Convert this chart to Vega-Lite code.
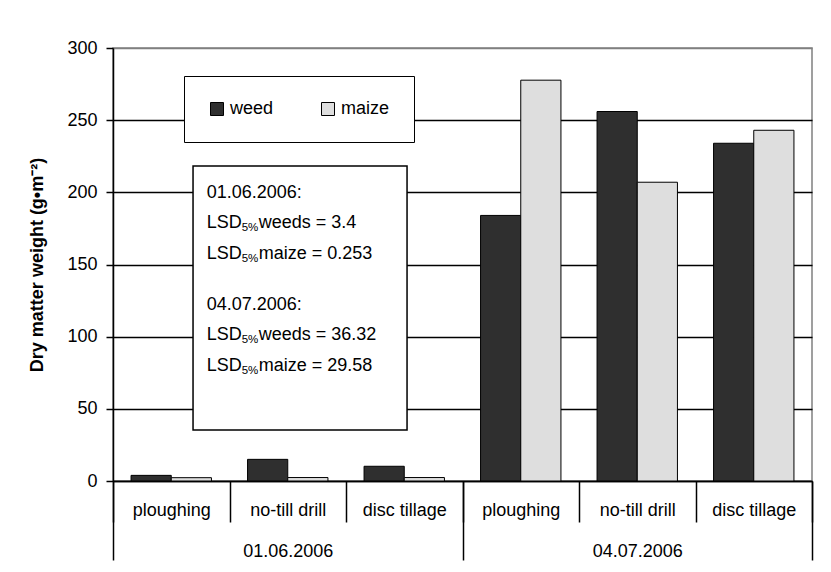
{
  "$schema": "https://vega.github.io/schema/vega-lite/v6.json",
  "width": 699,
  "height": 433,
  "autosize": {"type": "none"},
  "padding": {"left": 113, "top": 48, "right": 19, "bottom": 91},
  "background": "white",
  "config": {
    "font": "Liberation Sans",
    "view": {"stroke": "#808080", "strokeWidth": 1.5},
    "axis": {"labelColor": "black", "titleColor": "black", "domainColor": "black", "tickColor": "black", "labelFontSize": 18, "titleFontSize": 18, "domainWidth": 1.5, "tickWidth": 1.5}
  },
  "datasets": {
    "dm": [
      {"date": "01.06.2006", "tillage": "ploughing", "key": "01.06.2006|ploughing", "type": "weed", "value": 3.9},
      {"date": "01.06.2006", "tillage": "ploughing", "key": "01.06.2006|ploughing", "type": "maize", "value": 2.3},
      {"date": "01.06.2006", "tillage": "no-till drill", "key": "01.06.2006|no-till drill", "type": "weed", "value": 15},
      {"date": "01.06.2006", "tillage": "no-till drill", "key": "01.06.2006|no-till drill", "type": "maize", "value": 2.4},
      {"date": "01.06.2006", "tillage": "disc tillage", "key": "01.06.2006|disc tillage", "type": "weed", "value": 10.2},
      {"date": "01.06.2006", "tillage": "disc tillage", "key": "01.06.2006|disc tillage", "type": "maize", "value": 2.4},
      {"date": "04.07.2006", "tillage": "ploughing", "key": "04.07.2006|ploughing", "type": "weed", "value": 184},
      {"date": "04.07.2006", "tillage": "ploughing", "key": "04.07.2006|ploughing", "type": "maize", "value": 277.7},
      {"date": "04.07.2006", "tillage": "no-till drill", "key": "04.07.2006|no-till drill", "type": "weed", "value": 256},
      {"date": "04.07.2006", "tillage": "no-till drill", "key": "04.07.2006|no-till drill", "type": "maize", "value": 207},
      {"date": "04.07.2006", "tillage": "disc tillage", "key": "04.07.2006|disc tillage", "type": "weed", "value": 234},
      {"date": "04.07.2006", "tillage": "disc tillage", "key": "04.07.2006|disc tillage", "type": "maize", "value": 243}
    ]
  },
  "layer": [
    {
      "data": {"name": "dm"},
      "mark": {"type": "bar", "stroke": "black", "strokeWidth": 1},
      "encoding": {
        "x": {
          "field": "key", "type": "nominal",
          "sort": ["01.06.2006|ploughing", "01.06.2006|no-till drill", "01.06.2006|disc tillage", "04.07.2006|ploughing", "04.07.2006|no-till drill", "04.07.2006|disc tillage"],
          "scale": {"paddingInner": 0, "paddingOuter": 0},
          "axis": {"orient": "bottom", "title": null, "labelExpr": "split(datum.label, '|')[1]", "tickBand": "extent", "tickExtra": true, "tickSize": 41, "labelPadding": -21, "labelAngle": 0, "grid": false, "labelOverlap": false, "labelLimit": 200}
        },
        "xOffset": {"field": "type", "type": "nominal", "sort": ["weed", "maize"], "scale": {"paddingInner": 0, "paddingOuter": 0.449}},
        "y": {
          "field": "value", "type": "quantitative",
          "scale": {"domain": [0, 300], "nice": false},
          "title": "Dry matter weight (g•m⁻²)",
          "axis": {
            "values": [0, 50, 100, 150, 200, 250, 300],
            "grid": true,
            "gridColor": {"condition": {"test": "datum.value === 300", "value": "#808080"}, "value": "black"},
            "gridWidth": 1.5,
            "tickSize": 7, "labelPadding": 9, "titlePadding": 20, "titleFontWeight": "bold"
          }
        },
        "color": {
          "field": "type", "type": "nominal",
          "sort": ["weed", "maize"],
          "scale": {"domain": ["weed", "maize"], "range": ["#2f2f2f", "#dedede"]},
          "legend": {
            "orient": "none", "legendX": 71, "legendY": 28, "direction": "horizontal",
            "title": null, "strokeColor": "black", "fillColor": "white", "padding": 24,
            "symbolType": "square", "symbolSize": 169, "symbolStrokeColor": "black", "symbolStrokeWidth": 1,
            "labelFontSize": 18, "labelColor": "black", "labelOffset": 4, "columnPadding": 45
          }
        }
      }
    },
    {
      "data": {"name": "dm"},
      "mark": {"type": "tick", "opacity": 0},
      "encoding": {
        "x": {
          "field": "date", "type": "nominal",
          "scale": {"paddingInner": 0, "paddingOuter": 0},
          "axis": {"orient": "bottom", "title": null, "tickBand": "extent", "tickExtra": true, "tickSize": 79, "labelPadding": -18, "labelAngle": 0, "grid": false, "domain": false}
        },
        "y": {"field": "value", "type": "quantitative", "scale": {"domain": [0, 300], "nice": false}}
      }
    },
    {
      "data": {"values": [{"note": "LSD 5%"}]},
      "layer": [
        {
          "mark": {"type": "rect", "fill": "white", "stroke": "black", "strokeWidth": 1.5},
          "encoding": {
            "x": {"datum": 0.687, "type": "quantitative", "scale": {"domain": [0, 6], "nice": false, "zero": false}, "axis": null},
            "x2": {"datum": 2.524},
            "y": {"datum": 218.2, "type": "quantitative", "scale": {"domain": [0, 300], "nice": false}},
            "y2": {"datum": 35.3}
          }
        },
        {
          "mark": {"type": "text", "text": ["01.06.2006:", "LSD", "LSD"], "align": "left", "baseline": "alphabetic", "fontSize": 18, "lineHeight": 30.5, "color": "black"},
          "encoding": {
            "x": {"datum": 0.804, "type": "quantitative"},
            "y": {"datum": 196.1, "type": "quantitative"}
          }
        },
        {
          "mark": {"type": "text", "text": ["", "5%", "5%"], "align": "left", "baseline": "alphabetic", "fontSize": 11.5, "lineHeight": 30.5, "dx": 35, "dy": 3, "color": "black"},
          "encoding": {
            "x": {"datum": 0.804, "type": "quantitative"},
            "y": {"datum": 196.1, "type": "quantitative"}
          }
        },
        {
          "mark": {"type": "text", "text": ["", "weeds = 3.4", "maize = 0.253"], "align": "left", "baseline": "alphabetic", "fontSize": 18, "lineHeight": 30.5, "dx": 52, "color": "black"},
          "encoding": {
            "x": {"datum": 0.804, "type": "quantitative"},
            "y": {"datum": 196.1, "type": "quantitative"}
          }
        },
        {
          "mark": {"type": "text", "text": ["04.07.2006:", "LSD", "LSD"], "align": "left", "baseline": "alphabetic", "fontSize": 18, "lineHeight": 30.5, "color": "black"},
          "encoding": {
            "x": {"datum": 0.804, "type": "quantitative"},
            "y": {"datum": 118.5, "type": "quantitative"}
          }
        },
        {
          "mark": {"type": "text", "text": ["", "5%", "5%"], "align": "left", "baseline": "alphabetic", "fontSize": 11.5, "lineHeight": 30.5, "dx": 35, "dy": 3, "color": "black"},
          "encoding": {
            "x": {"datum": 0.804, "type": "quantitative"},
            "y": {"datum": 118.5, "type": "quantitative"}
          }
        },
        {
          "mark": {"type": "text", "text": ["", "weeds = 36.32", "maize = 29.58"], "align": "left", "baseline": "alphabetic", "fontSize": 18, "lineHeight": 30.5, "dx": 52, "color": "black"},
          "encoding": {
            "x": {"datum": 0.804, "type": "quantitative"},
            "y": {"datum": 118.5, "type": "quantitative"}
          }
        }
      ]
    }
  ],
  "resolve": {"scale": {"x": "independent"}, "axis": {"x": "independent"}}
}
